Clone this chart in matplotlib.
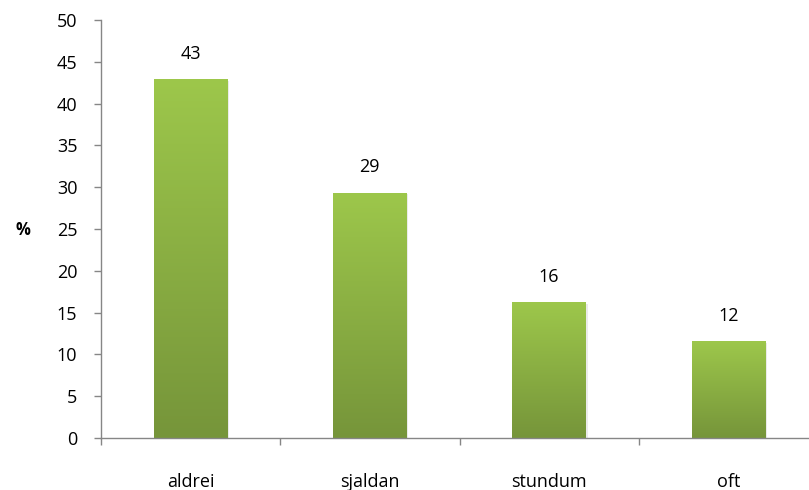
import matplotlib
matplotlib.use("Agg")
import matplotlib.pyplot as plt
import numpy as np
from matplotlib.colors import LinearSegmentedColormap

categories = ["aldrei", "sjaldan", "stundum", "oft"]
values = [42.9, 29.3, 16.2, 11.5]
labels = ["43", "29", "16", "12"]
yticks = [0, 5, 10, 15, 20, 25, 30, 35, 40, 45, 50]

plt.rcParams['font.family'] = ['Open Sans', 'DejaVu Sans']
fig = plt.figure(figsize=(8.09, 4.9), dpi=100)
ax = fig.add_axes([101/809, 52/490, 717/809, 418/490])

cmap = LinearSegmentedColormap.from_list("g", ["#76953a", "#9dc74b"])
grad = np.linspace(0, 1, 256).reshape(-1, 1)
width = 0.41
x = np.arange(len(categories))
for xi, v, lab in zip(x, values, labels):
    ax.add_patch(plt.Rectangle((xi - width/2 + 0.01, 0), width, v - 0.15,
                               facecolor="#000000", alpha=0.08, edgecolor="none", zorder=1))
    ax.imshow(grad, cmap=cmap, origin="lower", aspect="auto",
              extent=(xi - width/2, xi + width/2, 0, v), zorder=2)
    ax.text(xi, v + 2.0, lab, ha="center", va="bottom", fontsize=13, color="#000000")

ax.set_xlim(-0.5, 3.5)
ax.set_ylim(0, 50)
ax.set_yticks(yticks)
ax.set_yticklabels([str(t) for t in yticks], fontsize=13)
ax.set_xticks(x)
ax.set_xticklabels(categories, fontsize=13)
ax.set_xticks(np.arange(-0.5, 3.5, 1), minor=True)
ax.tick_params(axis="x", which="major", length=0, pad=25)
ax.tick_params(axis="x", which="minor", length=5, color="#868686", width=1)
ax.tick_params(axis="y", length=5, color="#868686", width=1, pad=12)
for s in ["top", "right"]:
    ax.spines[s].set_visible(False)
for s in ["left", "bottom"]:
    ax.spines[s].set_color("#868686")
    ax.spines[s].set_linewidth(1)
fig.text(23/809, 1 - 230/490, "%", fontsize=12, fontweight="bold", ha="center", va="center")

fig.savefig("out.png", dpi=100)
